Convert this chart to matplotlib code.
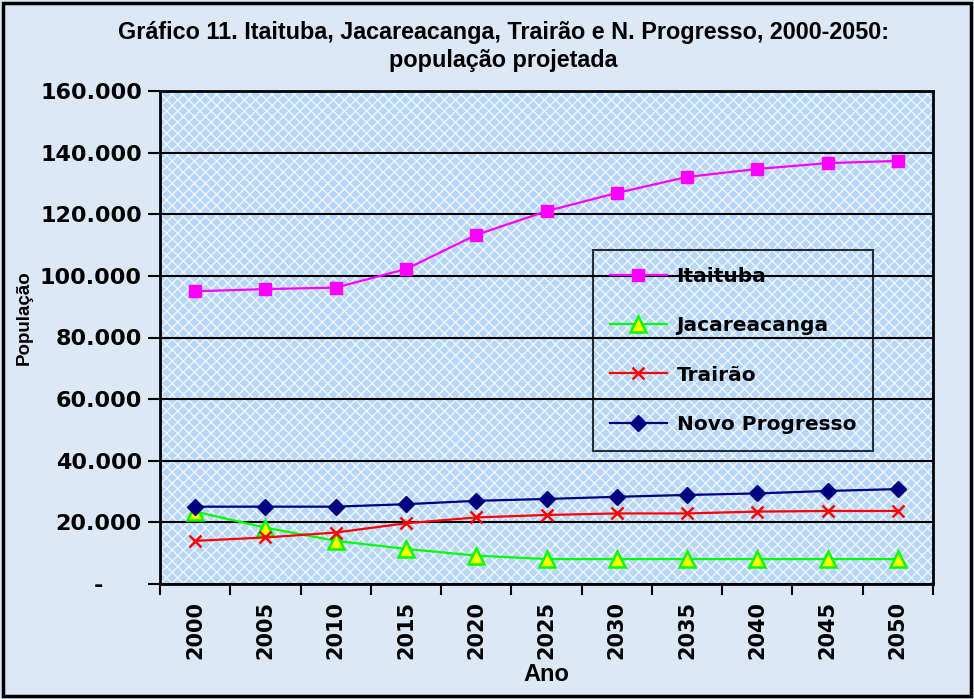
import matplotlib
matplotlib.use('Agg')
import matplotlib.pyplot as plt
from matplotlib.patches import Rectangle
from matplotlib.ticker import FuncFormatter

anos = ['2000', '2005', '2010', '2015', '2020', '2025', '2030', '2035', '2040', '2045', '2050']
itaituba = [95000, 95700, 96200, 102200, 113300, 121000, 126900, 132100, 134700, 136600, 137300]
jacareacanga = [23500, 18300, 14000, 11400, 9200, 8100, 8100, 8100, 8100, 8100, 8100]
trairao = [14000, 15100, 16700, 19700, 21600, 22400, 22900, 22900, 23500, 23700, 23700]
novo_progresso = [25100, 25100, 25100, 25900, 27000, 27600, 28300, 28900, 29400, 30200, 30800]
yticks = [0, 20000, 40000, 60000, 80000, 100000, 120000, 140000, 160000]

narrow = ['Liberation Sans Narrow', 'DejaVu Sans Condensed', 'Liberation Sans']
wide = ['DejaVu Sans']

plt.rcParams['hatch.linewidth'] = 0.9

fig = plt.figure(figsize=(9.74, 6.99), dpi=100, facecolor='#dce8f5')
fig.patches.append(Rectangle((0.003, 0.005), 0.994, 0.99, transform=fig.transFigure,
                             fill=False, edgecolor='black', lw=2.5))

ax = fig.add_axes([160/974, 1-584/699, (933-160)/974, (584-91)/699])
ax.set_facecolor('#b6d7f8')
ax.add_patch(Rectangle((0, 0), 1, 1, transform=ax.transAxes, facecolor='none',
                       edgecolor='#f4f9ff', hatch='xxx', lw=0, zorder=0))

x = range(len(anos))
ax.plot(x, itaituba, color='#ff00ff', lw=1.6, marker='s', ms=8, mfc='#ff00ff', mec='#ff00ff', label='Itaituba', zorder=3)
ax.plot(x, jacareacanga, color='#00ff00', lw=1.6, marker='^', ms=11, mfc='#ffff00', mec='#00ff00', mew=1.8, label='Jacareacanga', zorder=3)
ax.plot(x, trairao, color='#ff0000', lw=1.6, marker='x', ms=8, mec='#ff0000', mew=1.8, label='Trairão', zorder=3)
ax.plot(x, novo_progresso, color='#000080', lw=1.6, marker='D', ms=8, mfc='#000080', mec='#000080', label='Novo Progresso', zorder=3)

ax.set_xlim(-0.5, len(anos) - 0.5)
ax.set_ylim(0, 160000)
ax.set_yticks(yticks)
ax.yaxis.set_major_formatter(FuncFormatter(lambda v, p: '-     ' if v == 0 else f'{int(v):,}'.replace(',', '.')))
ax.grid(axis='y', color='black', lw=1.5)
ax.set_axisbelow(False)

ax.set_xticks(list(x))
ax.set_xticklabels(anos, rotation=90, fontfamily=wide, fontweight='bold', fontsize=15)
ax.set_xticks([i - 0.5 for i in range(len(anos) + 1)], minor=True)
ax.tick_params(axis='x', which='major', length=0, pad=12)
ax.tick_params(axis='x', which='minor', length=8, width=1.5, direction='out')
ax.tick_params(axis='y', length=9, width=1.5, direction='out', pad=4)
for lbl in ax.get_yticklabels():
    lbl.set_fontfamily(wide)
    lbl.set_fontweight('bold')
    lbl.set_fontsize(16)
for s in ax.spines.values():
    s.set_linewidth(2)
    s.set_color('black')

ax.set_xlabel('Ano', fontfamily=narrow, fontweight='bold', fontsize=17)
ax.set_ylabel('População', fontfamily=['Liberation Sans'], fontweight='bold', fontsize=13.5)
ax.yaxis.set_label_coords((33-160)/773, 0.54)
ax.xaxis.set_label_coords(0.5, -(663-584)/493)

fig.text(0.517, 1-32/699, 'Gráfico 11. Itaituba, Jacareacanga, Trairão e N. Progresso, 2000-2050:',
         ha='center', va='center', fontfamily=narrow, fontweight='bold', fontsize=16.8)
fig.text(0.517, 1-60/699, 'população projetada',
         ha='center', va='center', fontfamily=narrow, fontweight='bold', fontsize=16.8)

leg = ax.legend(loc='upper left', bbox_to_anchor=((593-160)/773, (584-250)/493),
                prop={'family': wide, 'weight': 'bold', 'size': 14.5},
                labelspacing=1.5, handlelength=2.8, handletextpad=0.5, borderpad=0.85,
                borderaxespad=0, fancybox=False, frameon=True)
leg.get_frame().set_facecolor('none')
leg.get_frame().set_edgecolor('black')
leg.get_frame().set_linewidth(1.5)

fig.savefig('out.png', dpi=100, facecolor=fig.get_facecolor())
